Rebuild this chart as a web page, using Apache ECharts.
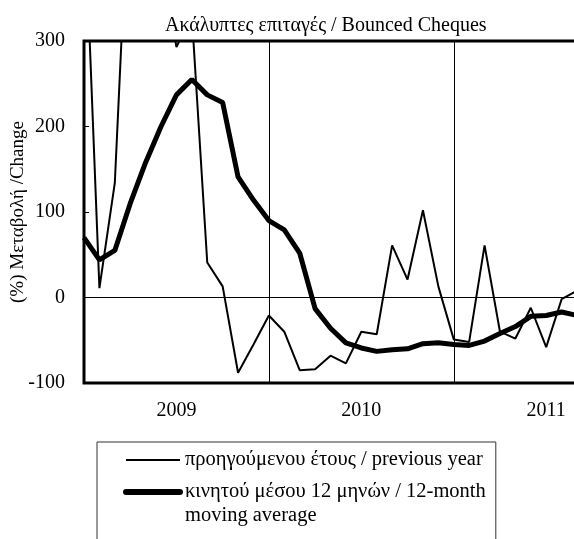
<!DOCTYPE html>
<html><head><meta charset="utf-8">
<script src="https://cdn.jsdelivr.net/npm/echarts@6/dist/echarts.min.js"></script>
<style>html,body{margin:0;padding:0;background:#fff}#c{width:574px;height:539px}</style>
</head><body><div id="c"></div>
<script>
const months = [
  '2009-01','2009-02','2009-03','2009-04','2009-05','2009-06','2009-07','2009-08','2009-09','2009-10','2009-11','2009-12',
  '2010-01','2010-02','2010-03','2010-04','2010-05','2010-06','2010-07','2010-08','2010-09','2010-10','2010-11','2010-12',
  '2011-01','2011-02','2011-03','2011-04','2011-05','2011-06','2011-07','2011-08','2011-09'
];
const prevYear = [470, 11, 134, 520, 470, 400, 293, 330, 41, 13, -88, -55,
  -21, -40, -85, -84, -68, -77, -40, -43, 61, 21, 102, 13,
  -49, -52, 61, -40, -48, -12, -58, -2, 8];
const movingAvg = [70, 44, 55, 110, 158, 200, 237, 255, 237, 228, 141, 114,
  90, 79, 52, -13, -36, -53, -59, -63, -61, -60, -54, -53,
  -55, -56, -51, -42, -34, -22, -21, -17, -21];
const yMin = -100, yMax = 300, yStep = 100;
const titleText = 'Ακάλυπτες επιταγές / Bounced Cheques';
const yName = '(%) Μεταβολή /Change';
const nameThin = 'προηγούμενου έτους / previous year';
const nameThick = 'κινητού μέσου 12 μηνών / 12-month moving average';

const F = 'Liberation Serif';
const chart = echarts.init(document.getElementById('c'));
chart.setOption({
  animation: false,
  backgroundColor: '#fff',
  title: {
    text: titleText, left: 160, top: 11,
    textStyle: {fontFamily: F, fontSize: 20, fontWeight: 'normal', color: '#000'}
  },
  grid: {left: 84, top: 41, bottom: 156, right: -3, show: true, borderColor: '#000', borderWidth: 3,
         containLabel: false, outerBoundsMode: 'none'},
  xAxis: {
    type: 'category', data: months, boundaryGap: false,
    axisLine: {show: false}, axisTick: {show: false},
    axisLabel: {
      interval: (i) => i % 12 === 6, margin: 18,
      formatter: (v) => v.slice(0, 4),
      fontFamily: F, fontSize: 20, color: '#000'
    },
    splitLine: {show: true, interval: (i) => i % 12 === 0, lineStyle: {color: '#000', width: 1}}
  },
  yAxis: {
    type: 'value', min: yMin, max: yMax, interval: yStep,
    name: yName, nameLocation: 'middle', nameGap: 56, nameMoveOverlap: false,
    nameTextStyle: {fontFamily: F, fontSize: 19, color: '#000'},
    axisLine: {show: false},
    axisTick: {show: true, inside: true, length: 5, lineStyle: {color: '#000', width: 1}},
    axisLabel: {margin: 19, fontFamily: F, fontSize: 20, color: '#000'},
    splitLine: {show: false}
  },
  legend: {
    orient: 'vertical', left: 97, top: 442, align: 'left', height: 400,
    padding: [6, 10, 40, 26], itemGap: -16,
    itemWidth: 54, itemHeight: 14,
    borderColor: '#333', borderWidth: 1,
    itemStyle: {opacity: 0},
    formatter: (n) => n.indexOf(' moving') > 0 ? ' \n' + n.replace(' moving', '\nmoving') : n,
    textStyle: {fontFamily: F, fontSize: 20.5, color: '#000', lineHeight: 24},
    data: [
      {name: nameThin, lineStyle: {width: 2}},
      {name: nameThick, lineStyle: {width: 6, cap: 'round'}}
    ]
  },
  series: [
    {
      name: nameThin, type: 'line', data: prevYear, symbol: 'none', clip: true,
      lineStyle: {color: '#000', width: 2}, itemStyle: {color: '#000'},
      markLine: {
        silent: true, symbol: 'none', label: {show: false},
        lineStyle: {color: '#000', width: 1, type: 'solid'},
        data: [{yAxis: 0}]
      }
    },
    {
      name: nameThick, type: 'line', data: movingAvg, symbol: 'none', clip: true,
      lineStyle: {color: '#000', width: 5}, itemStyle: {color: '#000'}
    }
  ]
});
</script></body></html>
